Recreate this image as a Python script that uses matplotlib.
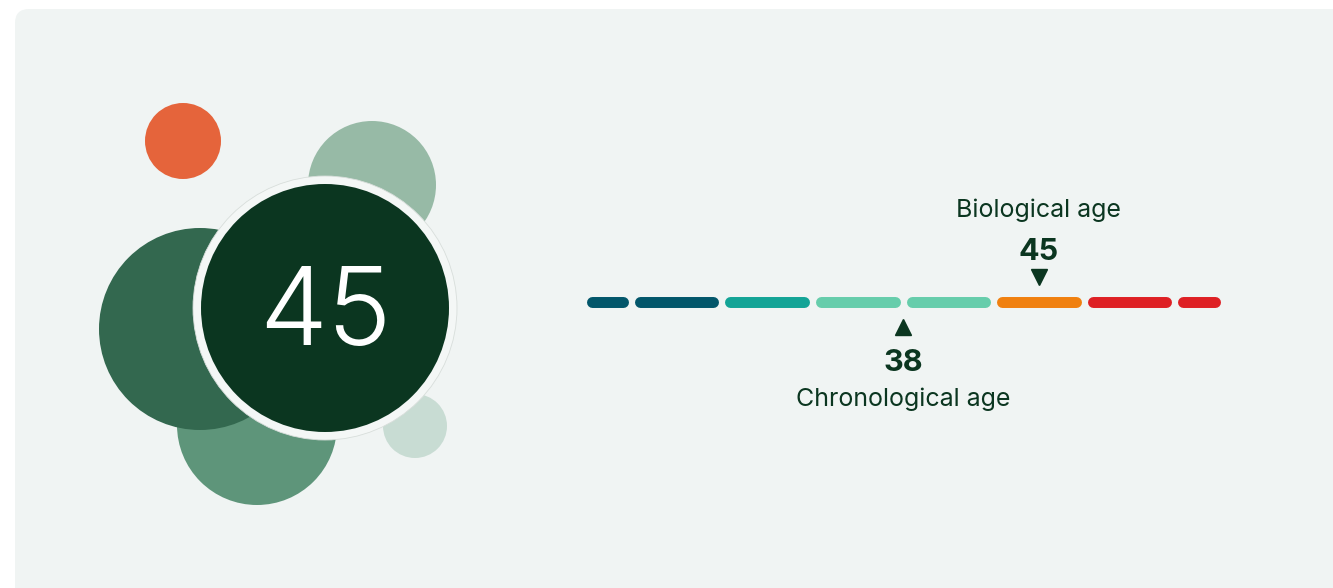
import matplotlib
matplotlib.use("Agg")
import matplotlib.pyplot as plt
from matplotlib.patches import Circle, FancyBboxPatch
import numpy as np

# ages
chronological_age = 38
biological_age = 45

# scale: age at each segment boundary, position of boundary on the bar (units)
seg_ages = [20, 25, 30, 34, 38, 42, 48, 55, 60]
seg_pos = [0, 0.5, 1.5, 2.5, 3.5, 4.5, 5.5, 6.5, 7]
seg_colors = ["#02566a", "#02566a", "#13a496", "#66cdab", "#66cdab",
              "#f0800f", "#de2024", "#de2024"]

# decoration bubbles: (x, y, radius, colour), back to front
bubbles = [
    (183, 141, 38, "#e5643b"),
    (372, 185, 64, "#97baa6"),
    (257, 425, 80, "#5e957a"),
    (200, 329, 101, "#33684f"),
    (415, 426, 32, "#c8dcd3"),
]

DARK = "#0b3620"
FONT = "Inter"

W, H = 1333, 588
fig = plt.figure(figsize=(W / 100, H / 100), dpi=100)
fig.patch.set_facecolor("white")

ax = fig.add_axes([0, 0, 1, 1])
ax.set_xlim(0, W)
ax.set_ylim(H, 0)
ax.axis("off")

# panel
ax.add_patch(FancyBboxPatch((15, 9), 1500, 700,
                            boxstyle="round,pad=0,rounding_size=14",
                            facecolor="#f0f4f3", edgecolor="none"))

for x, y, r, c in bubbles:
    ax.add_patch(Circle((x, y), r, facecolor=c, edgecolor="none"))

# main badge
ax.add_patch(Circle((325, 308), 132, facecolor="#f4f7f6", edgecolor="#d8dedb", linewidth=0.6))
ax.add_patch(Circle((325, 308), 124, facecolor=DARK, edgecolor="none"))
ax.text(325, 345, str(biological_age), color="white", fontsize=78, family=FONT,
        fontweight=300, ha="center", va="baseline")

# age bar
x0, x1 = 586, 1220
bx = fig.add_axes([x0 / W, 0, (x1 - x0) / W, 1])
bx.set_xlim(seg_pos[0], seg_pos[-1])
bx.set_ylim(H, 0)
bx.axis("off")

unit = (x1 - x0) / (seg_pos[-1] - seg_pos[0])
gap = 3 / unit
cap = 5.5 / unit
for i, c in enumerate(seg_colors):
    a = seg_pos[i] + (gap if i > 0 else 0) + cap
    b = seg_pos[i + 1] - (gap if i < len(seg_colors) - 1 else 0) - cap
    bx.plot([a, b], [302, 302], color=c, linewidth=7.9, solid_capstyle="round",
            clip_on=False)

bio_x = np.interp(biological_age, seg_ages, seg_pos)
chr_x = np.interp(chronological_age, seg_ages, seg_pos)

bx.plot(bio_x, 277, marker="v", markersize=11, color=DARK, linestyle="none")
bx.text(bio_x, 260, str(biological_age), color=DARK, fontsize=22, family=FONT,
        fontweight="bold", ha="center", va="baseline")
bx.text(bio_x, 217, "Biological age", color=DARK, fontsize=18, family=FONT,
        ha="center", va="baseline")

bx.plot(chr_x, 327, marker="^", markersize=11, color=DARK, linestyle="none")
bx.text(chr_x, 371, str(chronological_age), color=DARK, fontsize=22, family=FONT,
        fontweight="bold", ha="center", va="baseline")
bx.text(chr_x, 406, "Chronological age", color=DARK, fontsize=18, family=FONT,
        ha="center", va="baseline")

fig.savefig("out.png", dpi=100, facecolor=fig.get_facecolor())
